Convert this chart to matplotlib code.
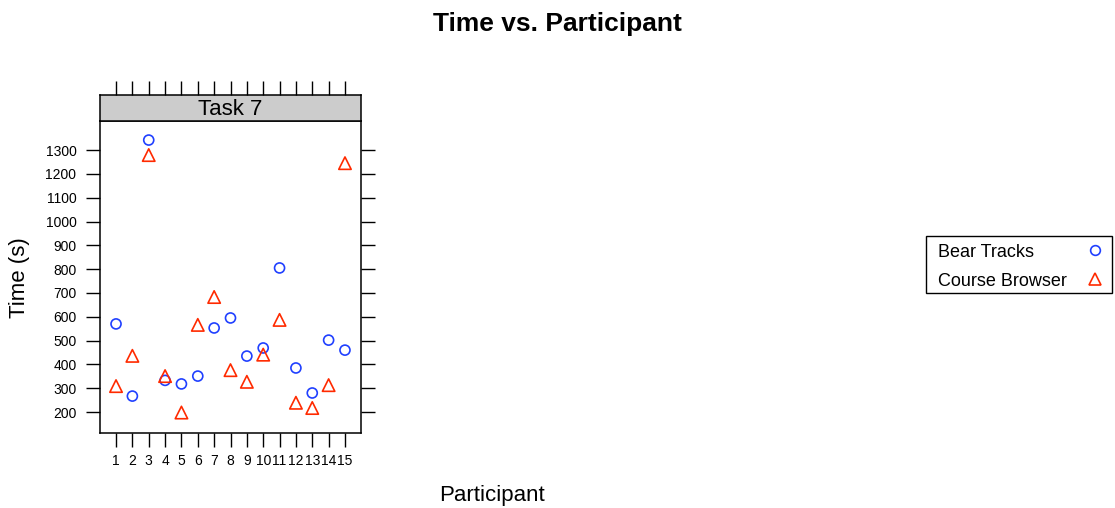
import matplotlib
matplotlib.use("Agg")
import matplotlib.pyplot as plt
from matplotlib.lines import Line2D
from matplotlib.patches import Rectangle

plt.rcParams['font.family'] = ['Liberation Sans', 'DejaVu Sans']

participants = list(range(1, 16))
bear_tracks = [570, 267, 1342, 333, 318, 351, 553, 595, 435, 469, 805, 385, 280, 502, 460]
course_browser = [309, 436, 1279, 351, 198, 566, 683, 376, 327, 441, 587, 239, 217, 313, 1245]
y_ticks = [200, 300, 400, 500, 600, 700, 800, 900, 1000, 1100, 1200, 1300]
series_names = ["Bear Tracks", "Course Browser"]
series_markers = ['o', '^']
colors = ["#2040ff", "#ff2a00"]

W, H = 1115, 508
fig = plt.figure(figsize=(W / 100, H / 100), dpi=100)

def fx(px):
    return px / W

def fy(py):
    return 1 - py / H

# main panel
ax = fig.add_axes([fx(100), fy(433), fx(361) - fx(100), fy(121) - fy(433)])
ax.scatter(participants, bear_tracks, marker='o', s=52, facecolors='none',
           edgecolors=colors[0], linewidths=1.2, zorder=3)
ax.scatter(participants, course_browser, marker='^', s=80, facecolors='none',
           edgecolors=colors[1], linewidths=1.2, zorder=3)
ax.set_xlim(0.02, 15.98)
ax.set_ylim(112, 1422)
ax.set_xticks(participants)
ax.set_xticklabels([str(p) for p in participants])
ax.set_yticks(y_ticks)
ax.set_yticklabels([str(v) for v in y_ticks])
ax.tick_params(axis='both', direction='out', length=10, width=1, labelsize=10,
               pad=6, colors='black')
ax.tick_params(axis='y', right=True, left=True, labelright=False, pad=7)
ax.tick_params(axis='x', top=False, bottom=True, pad=5)
for sp in ax.spines.values():
    sp.set_linewidth(1.1)

# strip
sax = fig.add_axes([fx(100), fy(121), fx(361) - fx(100), fy(95) - fy(121)])
sax.set_facecolor('#cccccc')
sax.set_xlim(0.02, 15.98)
sax.set_ylim(0, 1)
sax.set_xticks(participants)
sax.set_yticks([])
sax.tick_params(axis='x', top=True, bottom=False, labeltop=False, labelbottom=False,
                direction='out', length=10, width=1)
sax.text(0.5, 0.45, "Task 7", transform=sax.transAxes, ha='center', va='center',
         fontsize=16)
for sp in sax.spines.values():
    sp.set_linewidth(1.1)

fig.text(0.5, fy(24), "Time vs. Participant", ha='center', va='center',
         fontsize=19, fontweight='bold')
fig.text(fx(492), fy(495), "Participant", ha='center', va='center', fontsize=16)
fig.text(fx(20), fy(278), "Time (s)", ha='center', va='center', fontsize=16,
         rotation=90)

# legend (key box)
fig.patches.append(Rectangle((fx(926), fy(293)), fx(1112) - fx(926), fy(236) - fy(293),
                             transform=fig.transFigure, facecolor='white',
                             edgecolor='black', linewidth=1.0))
row_y = [250, 279]
for name, mk, col, yy in zip(series_names, series_markers, colors, row_y):
    fig.text(fx(938), fy(yy + 2.5), name, ha='left', va='center', fontsize=13)
    ms = 7 if mk == 'o' else 9
    fig.add_artist(Line2D([fx(1095)], [fy(yy)], transform=fig.transFigure,
                          linestyle='none', marker=mk, markersize=ms,
                          markerfacecolor='none', markeredgecolor=col,
                          markeredgewidth=1.2))

fig.savefig("out.png", dpi=100)
